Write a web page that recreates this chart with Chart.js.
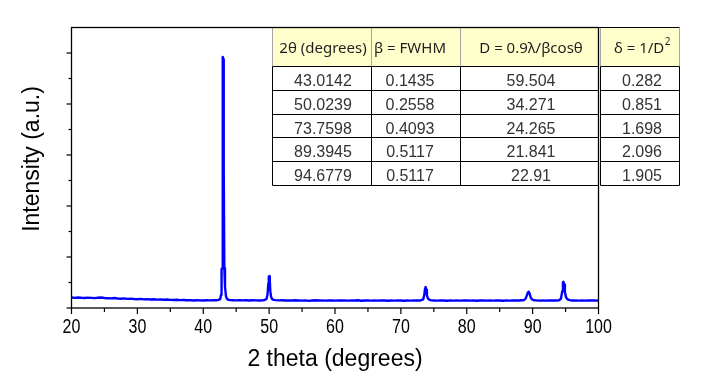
<!DOCTYPE html>
<html>
<head>
<meta charset="utf-8">
<title>XRD pattern</title>
<script src="https://cdn.jsdelivr.net/npm/chart.js@4.4.1/dist/chart.umd.min.js"></script>
<style>
    html, body { margin: 0; padding: 0; background: #fff; }
    #xrd { display: block; }
</style>
</head>
<body>
<canvas id="xrd" width="721" height="377"></canvas>
<script>
// 2 theta (degrees) and intensity (counts)
const twoTheta = [
    20, 20.5, 21, 21.5, 22, 22.5, 23, 23.5, 24, 24.5, 25, 25.5, 26, 26.5, 27, 27.5, 28, 28.5, 29, 29.5,
    30, 30.5, 31, 31.5, 32, 32.5, 33, 33.5, 34, 34.5, 35, 35.5, 36, 36.5, 37, 37.5, 38, 38.5, 39, 39.5,
    40, 40.5, 41, 41.5, 42, 42.3, 42.5, 42.6, 42.7, 42.78, 42.88, 42.93, 42.98, 43.03, 43.08, 43.14,
    43.2, 43.3, 43.45, 43.6, 43.8, 44.1, 44.5, 45, 45.5, 46, 46.5, 47, 47.5, 48, 48.5, 49, 49.3, 49.6,
    49.75, 49.88, 49.95, 50.02, 50.1, 50.18, 50.3, 50.45, 50.7, 51, 51.5, 52, 52.5, 53, 53.5, 54, 54.5,
    55, 55.5, 56, 56.5, 57, 57.5, 58, 58.5, 59, 59.5, 60, 60.5, 61, 61.5, 62, 62.5, 63, 63.5, 64, 64.5,
    65, 65.5, 66, 66.5, 67, 67.5, 68, 68.5, 69, 69.5, 70, 70.5, 71, 71.5, 72, 72.5, 73, 73.4, 73.55,
    73.68, 73.76, 73.85, 73.95, 74.1, 74.3, 74.6, 75, 75.5, 76, 76.5, 77, 77.5, 78, 78.5, 79, 79.5, 80,
    80.5, 81, 81.5, 82, 82.5, 83, 83.5, 84, 84.5, 85, 85.5, 86, 86.5, 87, 87.5, 88, 88.3, 88.6, 88.9,
    89.15, 89.3, 89.42, 89.55, 89.7, 89.9, 90.2, 90.5, 91, 91.5, 92, 92.5, 93, 93.5, 94, 94.3, 94.5,
    94.6, 94.68, 94.78, 94.9, 95.05, 95.25, 95.6, 96, 96.5, 97, 97.5, 98, 98.5, 99, 99.5, 100
];
const intensity = [
    205, 198, 207, 200, 196, 203, 199, 194, 201, 206, 197, 192, 188, 195, 186, 182, 189, 179, 184, 176,
    172, 178, 170, 174, 167, 171, 164, 168, 161, 166, 159, 156, 162, 154, 158, 151, 155, 148, 153, 150,
    147, 152, 149, 154, 151, 158, 168, 185, 260, 760, 780, 4900, 4925, 4880, 2720, 2690,
    780, 420, 230, 180, 162, 155, 153, 150, 155, 149, 152, 148, 153, 150, 147, 152, 158, 175,
    260, 480, 610, 625, 540, 330, 215, 175, 160, 154, 149, 151, 146, 150, 147, 152, 148,
    145, 150, 139, 147, 151, 146, 149, 144, 150, 147, 145, 149, 146, 150, 144, 148, 146, 151, 143, 147,
    149, 145, 148, 144, 150, 146, 143, 148, 145, 149, 146, 143, 148, 145, 150, 146, 148, 170, 260,
    390, 412, 360, 250, 190, 165, 150, 148, 145, 150, 146, 143, 148, 145, 149, 144, 147, 150,
    145, 148, 143, 147, 150, 145, 148, 144, 149, 146, 143, 148, 145, 150, 146, 148, 151, 150, 175,
    255, 310, 318, 280, 210, 170, 152, 149, 145, 148, 144, 150, 146, 148, 152, 180, 330,
    505, 515, 460, 320, 220, 175, 155, 147, 150, 145, 148, 144, 149, 146, 148, 145
];

const xMajorTicks = [20, 30, 40, 50, 60, 70, 80, 90, 100];
const xMinorTicks = [25, 35, 45, 55, 65, 75, 85, 95];
const yMajorTicks = [0, 1000, 2000, 3000, 4000, 5000];
const yMinorTicks = [500, 1500, 2500, 3500, 4500];

// inset table
const tableHeaders = ['2θ (degrees)', 'β = FWHM', 'D = 0.9λ/βcosθ', 'δ = 1/D'];
const peakAngles = ['43.0142', '50.0239', '73.7598', '89.3945', '94.6779'];
const fwhmValues = ['0.1435', '0.2558', '0.4093', '0.5117', '0.5117'];
const crystalSizes = ['59.504', '34.271', '24.265', '21.841', '22.91'];
const dislocationDensity = ['0.282', '0.851', '1.698', '2.096', '1.905'];

const tableCols = [272.5, 371.5, 460.5, 598.5];
const lastCol = [600.5, 679.5];
const tableRows = [27.5, 66.5, 90.5, 114.5, 137.5, 161.5, 185.5];
const textCenters = [323, 410, 531, 642];

function line(ctx, x1, y1, x2, y2) {
    ctx.beginPath();
    ctx.moveTo(x1, y1);
    ctx.lineTo(x2, y2);
    ctx.stroke();
}

function drawTable(ctx) {
    const left = tableCols[0], right = lastCol[1];
    const top = tableRows[0], headBottom = tableRows[1], bottom = tableRows[tableRows.length - 1];

    // header background
    ctx.fillStyle = '#ffffcc';
    ctx.fillRect(left, top, tableCols[3] - left, headBottom - top);
    ctx.fillRect(lastCol[0], top, lastCol[1] - lastCol[0], headBottom - top);
    ctx.fillStyle = '#ffffff';
    ctx.fillRect(left, headBottom, tableCols[3] - left, bottom - headBottom);
    ctx.fillRect(lastCol[0], headBottom, lastCol[1] - lastCol[0], bottom - headBottom);

    // header grey separators
    ctx.lineWidth = 1;
    ctx.strokeStyle = '#a6a6a6';
    [tableCols[0], tableCols[1], tableCols[2], lastCol[0], lastCol[1]].forEach(x => line(ctx, x, top, x, headBottom));

    // black grid of the body
    ctx.strokeStyle = '#000';
    line(ctx, left, top, right, top);
    tableRows.slice(1).forEach(y => {
        line(ctx, left, y, tableCols[3], y);
        line(ctx, lastCol[0], y, lastCol[1], y);
    });
    [...tableCols, ...lastCol].forEach(x => line(ctx, x, headBottom, x, bottom));

    // header text
    ctx.fillStyle = '#1f1f1f';
    ctx.textBaseline = 'alphabetic';
    ctx.font = '15px "Noto Sans", sans-serif';
    ctx.textAlign = 'center';
    for (let i = 0; i < 3; i++) {
        ctx.fillText(tableHeaders[i], textCenters[i], 52.5);
    }
    const main = tableHeaders[3];
    const mainW = ctx.measureText(main).width;
    ctx.font = '10px "Noto Sans", sans-serif';
    const supW = ctx.measureText('2').width;
    const startX = textCenters[3] - (mainW + supW) / 2;
    ctx.textAlign = 'left';
    ctx.font = '15px "Noto Sans", sans-serif';
    ctx.fillText(main, startX, 52.5);
    ctx.font = '10px "Noto Sans", sans-serif';
    ctx.fillText('2', startX + mainW + 0.5, 45);

    // body text
    ctx.fillStyle = '#333333';
    ctx.font = '16px "Liberation Sans", Arial, sans-serif';
    ctx.textAlign = 'center';
    const columns = [peakAngles, fwhmValues, crystalSizes, dislocationDensity];
    columns.forEach((col, c) => {
        col.forEach((val, r) => {
            ctx.fillText(val, textCenters[c], tableRows[r + 1] + 19.5);
        });
    });
}

const frameAndTable = {
    id: 'frameAndTable',
    afterDraw(chart) {
        const { ctx, chartArea: area, scales: { x, y } } = chart;
        ctx.save();

        drawTable(ctx);

        // plot frame
        ctx.strokeStyle = '#000';
        ctx.lineWidth = 1.3;
        ctx.strokeRect(area.left, area.top, area.right - area.left, area.bottom - area.top);

        // ticks, outward
        ctx.lineWidth = 1.2;
        xMajorTicks.forEach(v => { const px = x.getPixelForValue(v); line(ctx, px, area.bottom, px, area.bottom + 6); });
        xMinorTicks.forEach(v => { const px = x.getPixelForValue(v); line(ctx, px, area.bottom, px, area.bottom + 4); });
        yMajorTicks.forEach(v => { const py = y.getPixelForValue(v); line(ctx, area.left, py, area.left - 5, py); });
        yMinorTicks.forEach(v => { const py = y.getPixelForValue(v); line(ctx, area.left, py, area.left - 3, py); });

        // x tick labels, narrow face (Arial Narrow look)
        ctx.fillStyle = '#000';
        ctx.font = '20px "Liberation Sans", Arial, sans-serif';
        ctx.textAlign = 'center';
        ctx.textBaseline = 'alphabetic';
        xMajorTicks.forEach(v => {
            const px = x.getPixelForValue(v);
            ctx.save();
            ctx.translate(px, 333);
            ctx.scale(0.8, 1);
            ctx.fillText(String(v), 0, 0);
            ctx.restore();
        });

        // axis titles
        ctx.font = '23px "Liberation Sans", Arial, sans-serif';
        ctx.fillText('2 theta (degrees)', (area.left + area.right) / 2, 365.5);

        ctx.translate(38.5, 159);
        ctx.rotate(-Math.PI / 2);
        ctx.fillText('Intensity (a.u.)', 0, 0);

        ctx.restore();
    }
};

new Chart(document.getElementById('xrd'), {
    type: 'line',
    data: {
        datasets: [{
            data: twoTheta.map((t, i) => ({ x: t, y: intensity[i] })),
            borderColor: '#0000ff',
            borderWidth: 2.4,
            borderJoinStyle: 'round',
            borderCapStyle: 'round',
            pointRadius: 0,
            tension: 0,
            fill: false
        }]
    },
    options: {
        responsive: false,
        animation: false,
        devicePixelRatio: 1,
        layout: { padding: { top: 27.5, right: 122.5, left: 0, bottom: 0 } },
        plugins: {
            legend: { display: false },
            tooltip: { enabled: false }
        },
        scales: {
            x: {
                type: 'linear',
                min: 20,
                max: 100,
                grid: { display: false, drawTicks: false },
                border: { display: false },
                ticks: { display: false, stepSize: 10 },
                afterFit(scale) { scale.height = 69; }
            },
            y: {
                min: 0,
                max: 5500,
                grid: { display: false, drawTicks: false },
                border: { display: false },
                ticks: { display: false },
                afterFit(scale) { scale.width = 71.5; }
            }
        }
    },
    plugins: [frameAndTable]
});
</script>
</body>
</html>
